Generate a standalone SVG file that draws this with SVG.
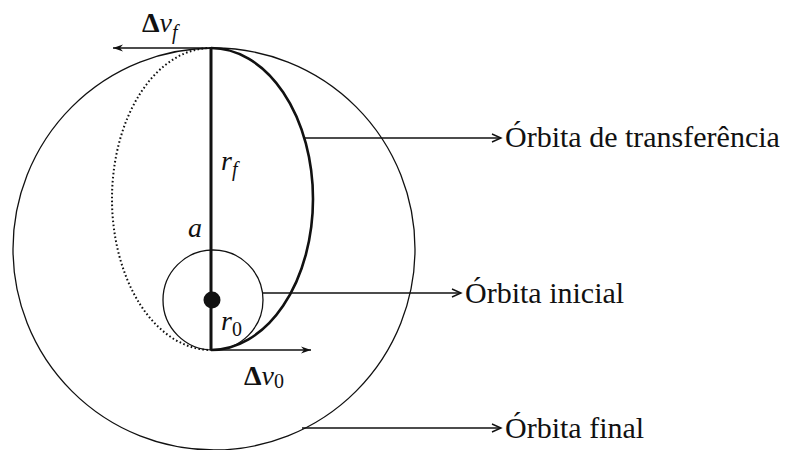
<svg xmlns="http://www.w3.org/2000/svg" width="803" height="450" viewBox="0 0 803 450">
<defs>
<style>
.thin{fill:none;stroke:#111;stroke-width:1.3}
.lbl{font-family:"Liberation Serif","Times New Roman",serif;font-size:30px;fill:#111}
.m{font-family:"Liberation Serif","Times New Roman",serif;fill:#111}
.lead{fill:none;stroke:#111;stroke-width:1.5}
</style>
<marker id="ah" markerWidth="12" markerHeight="10" refX="10" refY="5" orient="auto" markerUnits="userSpaceOnUse">
<polyline points="1,1 10,5 1,9" fill="none" stroke="#111" stroke-width="1.4"/>
</marker>
<marker id="ahf" markerWidth="12" markerHeight="10" refX="10" refY="5" orient="auto" markerUnits="userSpaceOnUse">
<polygon points="0,1.5 10,5 0,8.5 3,5" fill="#111"/>
</marker>
</defs>
<rect width="803" height="450" fill="#fff"/>
<g id="orbita-final"><circle cx="214" cy="249" r="201" class="thin"/></g>
<g id="orbita-inicial"><circle cx="213" cy="300" r="50" class="thin"/></g>
<g id="orbita-transferencia">
<path d="M211,48 A102,151 0 0 1 211,350" fill="none" stroke="#111" stroke-width="2.6"/>
<path d="M211,48 A99,151 0 0 0 211,350" fill="none" stroke="#111" stroke-width="2" stroke-dasharray="1.6,2.4"/>
</g>
<g id="eixo"><line x1="211" y1="48" x2="211" y2="350" stroke="#111" stroke-width="3"/></g>
<g id="corpo"><circle cx="212" cy="300" r="8.5" fill="#111"/></g>
<g id="connectors">
<line x1="211" y1="48" x2="113" y2="48" class="lead" marker-end="url(#ahf)"/>
<line x1="211" y1="350" x2="311" y2="350" class="lead" marker-end="url(#ahf)"/>
<line x1="305" y1="138" x2="501" y2="138" class="lead" marker-end="url(#ah)"/>
<line x1="263" y1="293" x2="461" y2="293" class="lead" marker-end="url(#ah)"/>
<line x1="302" y1="428" x2="501" y2="428" class="lead" marker-end="url(#ah)"/>
</g>
<g id="labels">
<text class="lbl" x="505" y="147">Órbita de transferência</text>
<text class="lbl" x="465" y="303">Órbita inicial</text>
<text class="lbl" x="505" y="438">Órbita final</text>
<text class="m" x="142" y="32" font-size="28" font-weight="bold">Δ<tspan font-style="italic" font-weight="normal">v</tspan><tspan font-size="20" font-style="italic" font-weight="normal" dy="7">f</tspan></text>
<text class="m" x="221" y="170" font-size="28" font-style="italic">r<tspan font-size="20" dy="6">f</tspan></text>
<text class="m" x="188" y="237" font-size="28" font-style="italic">a</text>
<text class="m" x="221" y="330" font-size="28" font-style="italic">r<tspan font-size="20" font-style="normal" dy="6">0</tspan></text>
<text class="m" x="244" y="385" font-size="28" font-weight="bold">Δ<tspan font-style="italic" font-weight="normal">v</tspan><tspan font-size="20" font-weight="normal" dy="3">0</tspan></text>
</g>
</svg>
